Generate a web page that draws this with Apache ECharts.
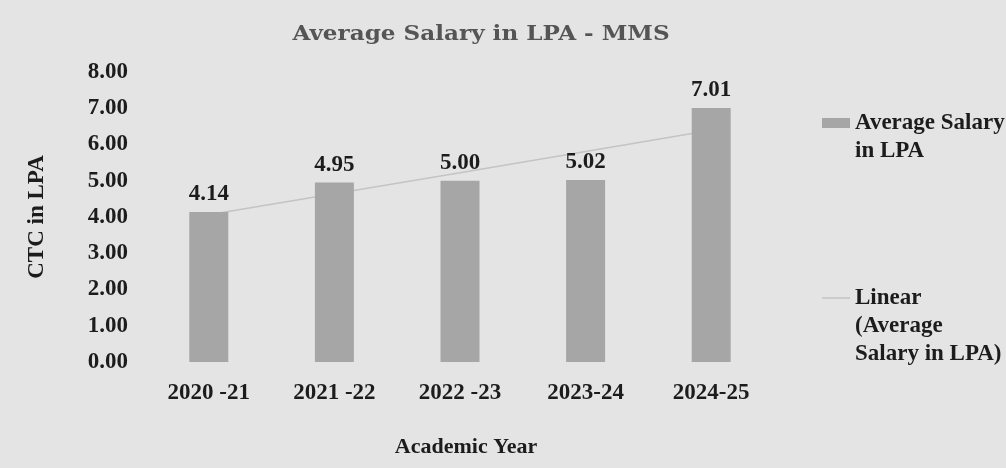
<!DOCTYPE html>
<html>
<head>
<meta charset="utf-8">
<script src="https://cdn.jsdelivr.net/npm/echarts@6/dist/echarts.min.js"></script>
<style>
html,body{margin:0;padding:0;background:#e4e4e4;}
#chart{width:1006px;height:468px;}
</style>
</head>
<body>
<div id="chart"></div>
<script>
var categories = ['2020 -21', '2021 -22', '2022 -23', '2023-24', '2024-25'];
var salaryValues = [4.14, 4.95, 5.00, 5.02, 7.01];
// linear trendline values
var trendValues = [4.06, 4.64, 5.22, 5.81, 6.39];
var yTicks = { min: 0, max: 8, interval: 1 };
var chartTitle = 'Average Salary in LPA - MMS';

var serif = "'Liberation Serif', 'Times New Roman', serif";
var dark = '#1c1c1c';

var chart = echarts.init(document.getElementById('chart'), null, { renderer: 'canvas' });
chart.setOption({
  backgroundColor: '#e4e4e4',
  animation: false,
  graphic: [
    {
      type: 'text',
      x: 481,
      y: 35,
      originX: 0,
      originY: 0,
      scaleX: 1.1,
      style: {
        text: chartTitle,
        x: 0,
        y: 0,
        align: 'center',
        verticalAlign: 'middle',
        font: "bold 21px 'DejaVu Serif', serif",
        fill: '#555555'
      }
    }
  ],
  grid: { left: 146, right: 232, top: 72, bottom: 106 },
  legend: {
    orient: 'vertical',
    left: 817,
    top: 76,
    itemWidth: 28,
    itemHeight: 10,
    itemGap: 63,
    textStyle: { fontFamily: serif, fontWeight: 'bold', fontSize: 23, color: dark, lineHeight: 28 },
    data: [
      { name: 'Average Salary in LPA', icon: 'rect' },
      { name: 'Linear (Average Salary in LPA)', icon: 'path://M0,0 L28,0 L28,1.5 L0,1.5 Z', itemStyle: { color: '#c4c4c4' } }
    ],
    formatter: function (name) {
      if (name === 'Average Salary in LPA') return '\nAverage Salary\nin LPA';
      return '\n\nLinear\n(Average\nSalary in LPA)';
    }
  },
  xAxis: {
    type: 'category',
    data: categories,
    name: 'Academic Year',
    nameLocation: 'middle',
    nameGap: 74,
    nameTextStyle: { fontFamily: serif, fontWeight: 'bold', fontSize: 22, color: dark, padding: [0, 0, 0, 12] },
    axisLine: { show: false },
    axisTick: { show: false },
    axisLabel: { margin: 20, fontFamily: serif, fontWeight: 'bold', fontSize: 23, color: dark }
  },
  yAxis: {
    type: 'value',
    min: yTicks.min,
    max: yTicks.max,
    interval: yTicks.interval,
    name: 'CTC in LPA',
    nameLocation: 'middle',
    nameRotate: 90,
    nameGap: 97,
    nameTextStyle: { fontFamily: serif, fontWeight: 'bold', fontSize: 23, color: dark },
    axisLine: { show: false },
    axisTick: { show: false },
    splitLine: { show: false },
    axisLabel: {
      margin: 18,
      fontFamily: serif, fontWeight: 'bold', fontSize: 23, color: dark,
      formatter: function (v) { return v.toFixed(2); }
    }
  },
  series: [
    {
      name: 'Linear (Average Salary in LPA)',
      type: 'line',
      data: trendValues,
      symbol: 'none',
      z: 1,
      lineStyle: { color: '#c4c4c4', width: 1.5 },
      itemStyle: { color: '#c4c4c4' }
    },
    {
      name: 'Average Salary in LPA',
      type: 'bar',
      data: salaryValues,
      barWidth: 39,
      z: 2,
      itemStyle: { color: '#a6a6a6' },
      label: {
        show: true,
        position: 'top',
        distance: 6,
        fontFamily: serif, fontWeight: 'bold', fontSize: 23, color: dark,
        formatter: function (p) { return p.value.toFixed(2); }
      }
    }
  ]
});
</script>
</body>
</html>
